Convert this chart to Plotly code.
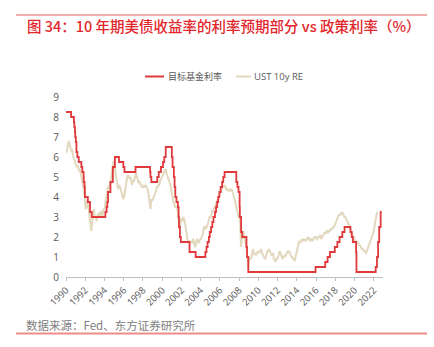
import plotly.graph_objects as go
import pandas as pd

# Fed funds target rate (upper bound), change dates and levels
fed_dates = [
    "1990-01-01", "1990-07-13", "1990-10-29", "1990-11-13", "1990-12-07", "1990-12-18",
    "1991-01-09", "1991-02-01", "1991-03-08", "1991-04-30", "1991-08-06", "1991-09-13",
    "1991-10-31", "1991-11-06", "1991-12-06", "1991-12-20", "1992-04-09", "1992-07-02",
    "1992-09-04", "1994-02-04", "1994-03-22", "1994-04-18", "1994-05-17", "1994-08-16",
    "1994-11-15", "1995-02-01", "1995-07-06", "1995-12-19", "1996-01-31", "1997-03-25",
    "1998-09-29", "1998-10-15", "1998-11-17", "1999-06-30", "1999-08-24", "1999-11-16",
    "2000-02-02", "2000-03-21", "2000-05-16", "2001-01-03", "2001-01-31", "2001-03-20",
    "2001-04-18", "2001-05-15", "2001-06-27", "2001-08-21", "2001-09-17", "2001-10-02",
    "2001-11-06", "2001-12-11", "2002-11-06", "2003-06-25", "2004-06-30", "2004-08-10",
    "2004-09-21", "2004-11-10", "2004-12-14", "2005-02-02", "2005-03-22", "2005-05-03",
    "2005-06-30", "2005-08-09", "2005-09-20", "2005-11-01", "2005-12-13", "2006-01-31",
    "2006-03-28", "2006-05-10", "2006-06-29", "2007-09-18", "2007-10-31", "2007-12-11",
    "2008-01-22", "2008-01-30", "2008-03-18", "2008-04-30", "2008-10-08", "2008-10-29",
    "2008-12-16", "2015-12-17", "2016-12-15", "2017-03-16", "2017-06-15", "2017-12-14",
    "2018-03-22", "2018-06-14", "2018-09-27", "2018-12-20", "2019-08-01", "2019-09-19",
    "2019-10-31", "2020-03-03", "2020-03-16", "2022-03-17", "2022-05-05", "2022-06-16",
    "2022-07-28", "2022-09-22", "2022-10-31",
]
fed_rate = [
    8.25, 8.00, 7.75, 7.50, 7.25, 7.00,
    6.75, 6.25, 6.00, 5.75, 5.50, 5.25,
    5.00, 4.75, 4.50, 4.00, 3.75, 3.25,
    3.00, 3.25, 3.50, 3.75, 4.25, 4.75,
    5.50, 6.00, 5.75, 5.50, 5.25, 5.50,
    5.25, 5.00, 4.75, 5.00, 5.25, 5.50,
    5.75, 6.00, 6.50, 6.00, 5.50, 5.00,
    4.50, 4.00, 3.75, 3.50, 3.00, 2.50,
    2.00, 1.75, 1.25, 1.00, 1.25, 1.50,
    1.75, 2.00, 2.25, 2.50, 2.75, 3.00,
    3.25, 3.50, 3.75, 4.00, 4.25, 4.50,
    4.75, 5.00, 5.25, 4.75, 4.50, 4.25,
    3.50, 3.00, 2.25, 2.00, 1.50, 1.00,
    0.25, 0.50, 0.75, 1.00, 1.25, 1.50,
    1.75, 2.00, 2.25, 2.50, 2.25, 2.00,
    1.75, 1.25, 0.25, 0.50, 1.00, 1.75,
    2.50, 3.25, 3.25,
]

# Expected-rate component of the 10y Treasury yield, monthly, Jan 1990 onward
ust_re = [
    6.2, 6.5, 6.7, 6.8, 6.6, 6.5, 6.3, 6.4, 6.1, 6.0, 5.8, 5.7,   # 1990
    5.6, 5.5, 5.6, 5.4, 5.3, 5.4, 5.2, 5.0, 4.8, 4.6, 4.3, 4.0,   # 1991
    3.4, 3.5, 3.8, 3.7, 3.4, 3.1, 2.7, 2.3, 2.6, 3.2, 3.4, 3.1,   # 1992
    3.0, 2.9, 2.8, 3.1, 3.2, 3.0, 3.1, 3.3, 3.1, 3.0, 3.3, 3.4,   # 1993
    3.5, 3.8, 4.1, 4.4, 4.5, 4.4, 4.7, 4.8, 5.0, 5.3, 5.6, 5.8,   # 1994
    5.6, 5.3, 5.0, 4.8, 4.5, 4.4, 4.6, 4.5, 4.3, 4.2, 4.0, 3.9,   # 1995
    4.0, 4.3, 4.6, 4.8, 5.0, 5.1, 5.0, 4.9, 5.0, 4.7, 4.6, 4.8,   # 1996
    4.8, 4.9, 5.1, 5.2, 5.0, 4.9, 4.7, 4.8, 4.7, 4.6, 4.5, 4.5,   # 1997
    4.5, 4.6, 4.5, 4.6, 4.5, 4.4, 4.3, 4.0, 3.6, 3.4, 3.9, 3.8,   # 1998
    3.9, 4.0, 4.1, 4.2, 4.3, 4.5, 4.5, 4.6, 4.6, 4.8, 4.9, 5.0,   # 1999
    5.1, 5.2, 5.3, 5.4, 5.4, 5.2, 5.1, 5.0, 4.9, 4.8, 4.6, 4.3,   # 2000
    4.0, 3.9, 3.7, 3.6, 3.5, 3.5, 3.4, 3.3, 2.9, 2.4, 2.6, 2.9,   # 2001
    2.9, 2.8, 3.0, 2.9, 2.7, 2.5, 2.2, 1.9, 1.8, 1.7, 1.8, 1.7,   # 2002
    1.8, 1.7, 1.9, 1.8, 1.6, 1.5, 1.7, 1.9, 1.8, 1.7, 1.8, 1.9,   # 2003
    1.9, 2.0, 2.1, 2.3, 2.5, 2.5, 2.4, 2.5, 2.6, 2.7, 2.9, 3.0,   # 2004
    3.0, 3.1, 3.3, 3.3, 3.4, 3.5, 3.6, 3.7, 3.8, 3.9, 4.0, 4.1,   # 2005
    4.2, 4.3, 4.4, 4.5, 4.6, 4.5, 4.6, 4.4, 4.4, 4.3, 4.4, 4.3,   # 2006
    4.4, 4.3, 4.4, 4.3, 4.2, 4.0, 3.9, 3.7, 3.5, 3.4, 3.2, 3.0,   # 2007
    3.0, 2.6, 1.5, 2.0, 2.3, 2.2, 2.0, 1.9, 1.7, 1.4, 1.0, 0.4,   # 2008
    0.8, 1.0, 0.9, 1.0, 1.2, 1.4, 1.2, 1.1, 1.2, 1.1, 1.2, 1.3,   # 2009
    1.2, 1.3, 1.2, 1.4, 1.2, 1.1, 1.0, 0.9, 0.9, 1.0, 1.2, 1.3,   # 2010
    1.3, 1.4, 1.3, 1.2, 1.1, 1.1, 1.2, 0.9, 0.8, 0.8, 0.9, 0.9,   # 2011
    1.0, 1.1, 1.3, 1.2, 1.1, 1.0, 0.9, 1.0, 1.1, 1.0, 1.1, 1.2,   # 2012
    1.3, 1.2, 1.3, 1.2, 1.1, 1.0, 1.0, 0.9, 0.9, 0.8, 1.0, 1.2,   # 2013
    1.4, 1.6, 1.7, 1.8, 1.7, 1.8, 1.9, 1.8, 1.9, 1.8, 1.9, 1.8,   # 2014
    1.9, 2.0, 2.0, 1.9, 1.8, 1.9, 1.9, 1.8, 1.9, 1.9, 2.0, 2.0,   # 2015
    1.9, 1.9, 2.0, 2.0, 2.0, 2.1, 1.9, 2.0, 2.1, 2.1, 2.2, 2.2,   # 2016
    2.2, 2.3, 2.3, 2.2, 2.3, 2.3, 2.4, 2.4, 2.4, 2.5, 2.5, 2.6,   # 2017
    2.7, 2.8, 2.9, 3.0, 3.1, 3.1, 3.1, 3.2, 3.2, 3.2, 3.1, 3.0,   # 2018
    3.0, 2.9, 2.8, 2.7, 2.6, 2.5, 2.5, 2.3, 2.2, 2.2, 2.1, 2.0,   # 2019
    1.9, 1.8, 1.7, 1.8, 1.7, 1.6, 1.6, 1.5, 1.5, 1.4, 1.4, 1.3,   # 2020
    1.3, 1.2, 1.2, 1.3, 1.4, 1.5, 1.6, 1.7, 1.8, 2.0, 2.1, 2.2,   # 2021
    2.4, 2.7, 2.9, 3.1, 3.2, 3.2,                                 # 2022
]
ust_dates = pd.date_range("1990-01-01", periods=len(ust_re), freq="MS") + pd.Timedelta(days=14)

tick_years = list(range(1990, 2023, 2))
y_ticks = list(range(0, 10))

title_text = "图 34：10 年期美债收益率的利率预期部分 vs 政策利率（%）"
source_text = "数据来源：Fed、东方证券研究所"
fed_name = "目标基金利率"
re_name = "UST 10y RE"

RED = "#e03a3c"
BEIGE = "rgb(226,216,190)"
GREY = "#595959"
CJK = "Noto Sans CJK SC, Open Sans, sans-serif"

W, H = 434, 347
L, R, T, B = 66, 51, 97, 70
PW, PH = W - L - R, H - T - B


def px_x(x):
    return (x - L) / PW


def px_y(y):
    return (H - B - y) / PH


fig = go.Figure()
fig.add_trace(go.Scatter(
    x=ust_dates, y=ust_re, mode="lines", name=re_name,
    line=dict(color=BEIGE, width=2),
))
fig.add_trace(go.Scatter(
    x=pd.to_datetime(fed_dates), y=fed_rate, mode="lines", name=fed_name,
    line=dict(color=RED, width=1.8, shape="hv"),
))

fig.update_layout(
    width=W, height=H,
    margin=dict(l=L, r=R, t=T, b=B),
    paper_bgcolor="white", plot_bgcolor="white",
    showlegend=False,
    font=dict(family="Open Sans, Noto Sans CJK SC, sans-serif", size=10, color=GREY),
)
fig.update_xaxes(
    type="date", range=["1990-01-01", "2022-12-20"],
    tickmode="array",
    tickvals=[f"{y}-01-01" for y in tick_years],
    ticktext=[str(y) for y in tick_years],
    tickangle=-45, tickfont=dict(size=9.5, color=GREY),
    showline=True, linecolor="#bfbfbf", linewidth=1,
    ticks="outside", ticklen=3, tickcolor="#bfbfbf",
    showgrid=False, zeroline=False,
)
fig.update_yaxes(
    range=[0, 9], tickmode="array", tickvals=y_ticks,
    ticktext=[str(v) for v in y_ticks],
    tickfont=dict(size=10, color=GREY),
    showline=False, showgrid=False, zeroline=False,
    ticks="", ticklabelstandoff=6,
)

shapes = [
    # frame rules above title and below source
    dict(type="line", xref="paper", yref="paper", x0=px_x(16), x1=px_x(427),
         y0=px_y(15), y1=px_y(15), line=dict(color="#e0605c", width=1.2)),
    dict(type="line", xref="paper", yref="paper", x0=px_x(16), x1=px_x(427),
         y0=px_y(333.5), y1=px_y(333.5), line=dict(color="#ee8c88", width=2)),
    # legend keys
    dict(type="line", xref="paper", yref="paper", x0=px_x(145), x1=px_x(164),
         y0=px_y(76.5), y1=px_y(76.5), line=dict(color=RED, width=2)),
    dict(type="line", xref="paper", yref="paper", x0=px_x(236), x1=px_x(251),
         y0=px_y(76.5), y1=px_y(76.5), line=dict(color=BEIGE, width=2)),
]
annotations = [
    dict(text=title_text, xref="paper", yref="paper", x=px_x(25), y=px_y(25),
         xanchor="left", yanchor="middle", showarrow=False,
         font=dict(family=CJK, size=14.5, color="#e3262b", weight=500)),
    dict(text=source_text, xref="paper", yref="paper", x=px_x(24), y=px_y(325),
         xanchor="left", yanchor="middle", showarrow=False,
         font=dict(family=CJK, size=11.5, color="#808080")),
    dict(text=fed_name, xref="paper", yref="paper", x=px_x(166), y=px_y(76.5),
         xanchor="left", yanchor="middle", showarrow=False,
         font=dict(family=CJK, size=9, color=GREY)),
    dict(text=re_name, xref="paper", yref="paper", x=px_x(252), y=px_y(76.5),
         xanchor="left", yanchor="middle", showarrow=False,
         font=dict(family="Open Sans, sans-serif", size=9.5, color=GREY)),
]
fig.update_layout(shapes=shapes, annotations=annotations)

fig.write_html("out.html")
